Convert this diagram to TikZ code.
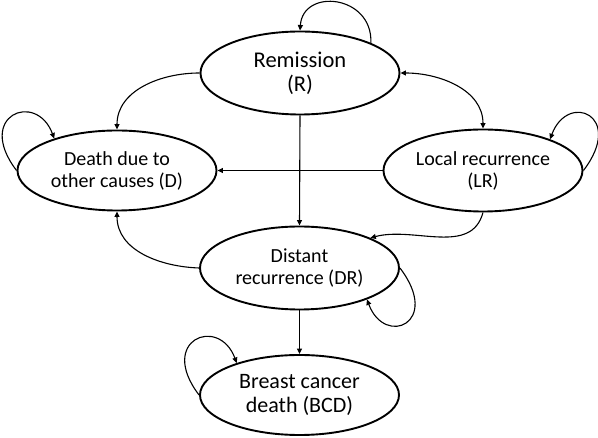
\documentclass[tikz,border=0pt]{standalone}
\usepackage{fontspec}
\setmainfont{Carlito}
\usetikzlibrary{shapes.geometric,arrows.meta}
\begin{document}
\begin{tikzpicture}[x=1pt,y=-1pt,
  state/.style={ellipse,draw,line width=1.9pt,inner sep=0pt,minimum width=199pt,minimum height=82pt,align=center,font=\fontsize{20}{22}\selectfont},
  conn/.style={line width=1.1pt,-{Triangle[length=5.5pt,width=5pt]}},
  bconn/.style={line width=1.1pt,{Triangle[length=5.5pt,width=5pt]}-{Triangle[length=5.5pt,width=5pt]}}]
\useasboundingbox (0,0) rectangle (598,438);
\node[state,font=\fontsize{22.5}{24}\selectfont,minimum height=83pt] (R) at (300,73) {Remission\\(R)};
\node[state,minimum height=80pt] (D) at (117,170.5) {Death due to\\other causes (D)};
\node[state] (LR) at (483,170.5) {Local recurrence\\(LR)};
\node[state,minimum height=83pt] (DR) at (299.5,268) {Distant\\recurrence (DR)};
\node[state,font=\fontsize{22}{24}\selectfont,minimum height=80pt] (BCD) at (299.5,395) {Breast cancer\\death (BCD)};
% self loops
\draw[conn] (R.23) .. controls +(2,-48) and +(3,-43) .. (R.90);
\draw[conn] (D.180) .. controls +(-42,-55) and +(-18,-48) .. (D.153);
\draw[conn] (LR.0) .. controls +(42,-55) and +(18,-48) .. (LR.25);
\draw[conn] (DR.0) .. controls +(42,55) and +(18,48) .. (DR.-25);
\draw[conn] (BCD.180) .. controls +(-42,-55) and +(-18,-48) .. (BCD.153);
% transitions
\draw[conn] (R.180) to[out=180,in=90] (D.90);
\draw[bconn] (R.0) to[out=0,in=90] (LR.90);
\draw[conn] (R.south) -- (DR.north);
\draw[conn] (LR.180) -- (D.0);
\draw[conn] (LR.-90) to[out=-105,in=15] (DR.23);
\draw[conn] (DR.180) to[out=178,in=-90] (D.-90);
\draw[conn] (DR.south) -- (BCD.north);
\end{tikzpicture}
\end{document}
